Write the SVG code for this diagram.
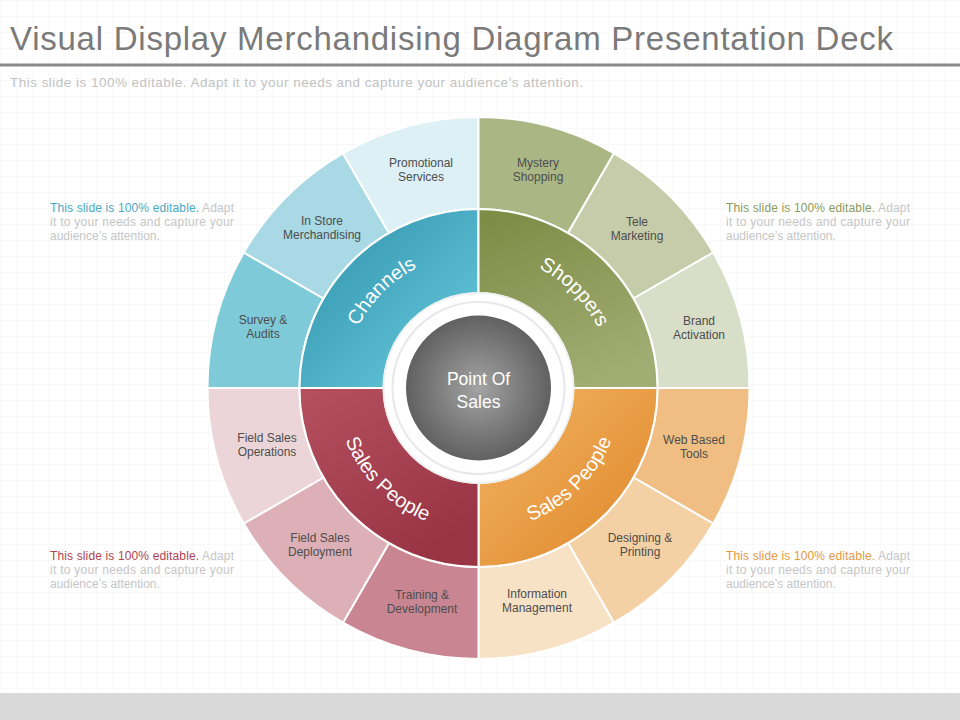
<svg xmlns="http://www.w3.org/2000/svg" width="960" height="720" viewBox="0 0 960 720">
<defs>
<style>
text{font-family:"Liberation Sans",Arial,sans-serif}
.seg{stroke:#ffffff;stroke-width:2}
.lbl{font-size:12px;fill:#4d4d4d;text-anchor:middle}
.ring{font-size:20px;fill:#ffffff}
.side{font-size:12px;fill:#c6c6c6}
</style>
<pattern id="grid" width="16" height="16" patternUnits="userSpaceOnUse">
<path d="M16 0 L0 0 0 16" fill="none" stroke="#f3f3f3" stroke-width="1"/>
</pattern>
<linearGradient id="gTeal" x1="0" y1="0" x2="1" y2="1">
<stop offset="0" stop-color="#2c90a9"/><stop offset="1" stop-color="#6ccde0"/>
</linearGradient>
<linearGradient id="gOlive" x1="0.2" y1="0" x2="0.6" y2="1">
<stop offset="0" stop-color="#7d8d46"/><stop offset="1" stop-color="#a2ad74"/>
</linearGradient>
<linearGradient id="gRed" x1="0" y1="0" x2="0.6" y2="1">
<stop offset="0" stop-color="#b5505f"/><stop offset="1" stop-color="#983444"/>
</linearGradient>
<linearGradient id="gOrange" x1="0" y1="0" x2="1" y2="1">
<stop offset="0" stop-color="#f2b565"/><stop offset="1" stop-color="#df8526"/>
</linearGradient>
<radialGradient id="gGray" cx="0.5" cy="0.5" r="0.5">
<stop offset="0" stop-color="#a3a3a3"/><stop offset="1" stop-color="#616161"/>
</radialGradient>
<path id="pChannels" d="M -135 0 A 135 135 0 0 1 0 -135"/>
<path id="pShoppers" d="M 0 -134 A 134 134 0 0 1 134 0"/>
<path id="pRed" d="M -143 0 A 143 143 0 0 0 0 143"/>
<path id="pOrange" d="M 0 143 A 143 143 0 0 0 143 0"/>
</defs>
<rect width="960" height="720" fill="#ffffff"/>
<rect width="960" height="693" fill="url(#grid)"/>
<rect x="0" y="693" width="960" height="27" fill="#d9d9d9"/>

<g id="header">
<text x="10" y="50" font-size="33" fill="#7a7a7a" textLength="883" lengthAdjust="spacing">Visual Display Merchandising Diagram Presentation Deck</text>
<rect x="0" y="63.5" width="960" height="3" fill="#8a8a8a"/>
<text x="10" y="87" font-size="13.5" fill="#c2c2c2" textLength="573" lengthAdjust="spacing">This slide is 100% editable. Adapt it to your needs and capture your audience’s attention.</text>
</g>

<g id="wheel" transform="translate(478.5,388)">
<g id="outer-segments">
<g id="survey-audits"><path class="seg" fill="#7fcad9" d="M -271 0 A 271 271 0 0 1 -234.70 -135.5 L -155.02 -89.5 A 179 179 0 0 0 -179 0 Z"/></g>
<g id="in-store"><path class="seg" fill="#a9d9e4" d="M -234.70 -135.5 A 271 271 0 0 1 -135.5 -234.70 L -89.5 -155.02 A 179 179 0 0 0 -155.02 -89.5 Z"/></g>
<g id="promotional"><path class="seg" fill="#dcf0f5" d="M -135.5 -234.70 A 271 271 0 0 1 0 -271 L 0 -179 A 179 179 0 0 0 -89.5 -155.02 Z"/></g>
<g id="mystery"><path class="seg" fill="#abb685" d="M 0 -271 A 271 271 0 0 1 135.5 -234.70 L 89.5 -155.02 A 179 179 0 0 0 0 -179 Z"/></g>
<g id="tele"><path class="seg" fill="#c6cca9" d="M 135.5 -234.70 A 271 271 0 0 1 234.70 -135.5 L 155.02 -89.5 A 179 179 0 0 0 89.5 -155.02 Z"/></g>
<g id="brand"><path class="seg" fill="#d9dec9" d="M 234.70 -135.5 A 271 271 0 0 1 271 0 L 179 0 A 179 179 0 0 0 155.02 -89.5 Z"/></g>
<g id="web-based"><path class="seg" fill="#f0be82" d="M 271 0 A 271 271 0 0 1 234.70 135.5 L 155.02 89.5 A 179 179 0 0 0 179 0 Z"/></g>
<g id="designing"><path class="seg" fill="#f4d1a5" d="M 234.70 135.5 A 271 271 0 0 1 135.5 234.70 L 89.5 155.02 A 179 179 0 0 0 155.02 89.5 Z"/></g>
<g id="information"><path class="seg" fill="#f8e2c6" d="M 135.5 234.70 A 271 271 0 0 1 0 271 L 0 179 A 179 179 0 0 0 89.5 155.02 Z"/></g>
<g id="training"><path class="seg" fill="#c98692" d="M 0 271 A 271 271 0 0 1 -135.5 234.70 L -89.5 155.02 A 179 179 0 0 0 0 179 Z"/></g>
<g id="deployment"><path class="seg" fill="#ddb0b7" d="M -135.5 234.70 A 271 271 0 0 1 -234.70 135.5 L -155.02 89.5 A 179 179 0 0 0 -89.5 155.02 Z"/></g>
<g id="operations"><path class="seg" fill="#ecd5d8" d="M -234.70 135.5 A 271 271 0 0 1 -271 0 L -179 0 A 179 179 0 0 0 -155.02 89.5 Z"/></g>
</g>
<g id="inner-ring">
<g id="channels"><path class="seg" fill="url(#gTeal)" d="M -179 0 A 179 179 0 0 1 0 -179 L 0 -95 A 95 95 0 0 0 -95 0 Z"/>
<text class="ring"><textPath href="#pChannels" startOffset="50%" text-anchor="middle">Channels</textPath></text></g>
<g id="shoppers"><path class="seg" fill="url(#gOlive)" d="M 0 -179 A 179 179 0 0 1 179 0 L 95 0 A 95 95 0 0 0 0 -95 Z"/>
<text class="ring"><textPath href="#pShoppers" startOffset="50%" text-anchor="middle">Shoppers</textPath></text></g>
<g id="sales-people-orange"><path class="seg" fill="url(#gOrange)" d="M 179 0 A 179 179 0 0 1 0 179 L 0 95 A 95 95 0 0 0 95 0 Z"/>
<text class="ring"><textPath href="#pOrange" startOffset="50%" text-anchor="middle">Sales People</textPath></text></g>
<g id="sales-people-red"><path class="seg" fill="url(#gRed)" d="M 0 179 A 179 179 0 0 1 -179 0 L -95 0 A 95 95 0 0 0 0 95 Z"/>
<text class="ring"><textPath href="#pRed" startOffset="50%" text-anchor="middle">Sales People</textPath></text></g>
</g>
<g id="point-of-sales">
<circle r="95" fill="#ffffff" stroke="#eeeeee" stroke-width="1.5"/>
<circle r="86" fill="none" stroke="#e8e8ec" stroke-width="2"/>
<circle r="72.5" fill="url(#gGray)"/>
<text x="0" y="-3" font-size="17.5" fill="#ffffff" text-anchor="middle">Point Of</text>
<text x="0" y="20" font-size="17.5" fill="#ffffff" text-anchor="middle">Sales</text>
</g>
</g>

<g id="segment-labels">
<text class="lbl" x="421" y="167">Promotional<tspan x="421" dy="14">Services</tspan></text>
<text class="lbl" x="322" y="225">In Store<tspan x="322" dy="14">Merchandising</tspan></text>
<text class="lbl" x="263" y="324">Survey &amp;<tspan x="263" dy="14">Audits</tspan></text>
<text class="lbl" x="538" y="167">Mystery<tspan x="538" dy="14">Shopping</tspan></text>
<text class="lbl" x="637" y="226">Tele<tspan x="637" dy="14">Marketing</tspan></text>
<text class="lbl" x="699" y="325">Brand<tspan x="699" dy="14">Activation</tspan></text>
<text class="lbl" x="267" y="442">Field Sales<tspan x="267" dy="14">Operations</tspan></text>
<text class="lbl" x="320" y="542">Field Sales<tspan x="320" dy="14">Deployment</tspan></text>
<text class="lbl" x="422" y="599">Training &amp;<tspan x="422" dy="14">Development</tspan></text>
<text class="lbl" x="694" y="444">Web Based<tspan x="694" dy="14">Tools</tspan></text>
<text class="lbl" x="640" y="542">Designing &amp;<tspan x="640" dy="14">Printing</tspan></text>
<text class="lbl" x="537" y="598">Information<tspan x="537" dy="14">Management</tspan></text>
</g>

<g id="note-top-left">
<text class="side" x="50" y="212" textLength="184" lengthAdjust="spacing"><tspan fill="#4aa9c2">This slide is 100% editable.</tspan> Adapt</text>
<text class="side" x="50" y="226" textLength="184" lengthAdjust="spacing">it to your needs and capture your</text>
<text class="side" x="50" y="240">audience’s attention.</text>
</g>
<g id="note-top-right">
<text class="side" x="726" y="212" textLength="184" lengthAdjust="spacing"><tspan fill="#8d9a5a">This slide is 100% editable.</tspan> Adapt</text>
<text class="side" x="726" y="226" textLength="184" lengthAdjust="spacing">it to your needs and capture your</text>
<text class="side" x="726" y="240">audience’s attention.</text>
</g>
<g id="note-bottom-left">
<text class="side" x="50" y="560" textLength="184" lengthAdjust="spacing"><tspan fill="#b0434f">This slide is 100% editable.</tspan> Adapt</text>
<text class="side" x="50" y="574" textLength="184" lengthAdjust="spacing">it to your needs and capture your</text>
<text class="side" x="50" y="588">audience’s attention.</text>
</g>
<g id="note-bottom-right">
<text class="side" x="726" y="560" textLength="184" lengthAdjust="spacing"><tspan fill="#e49a3e">This slide is 100% editable.</tspan> Adapt</text>
<text class="side" x="726" y="574" textLength="184" lengthAdjust="spacing">it to your needs and capture your</text>
<text class="side" x="726" y="588">audience’s attention.</text>
</g>
</svg>
